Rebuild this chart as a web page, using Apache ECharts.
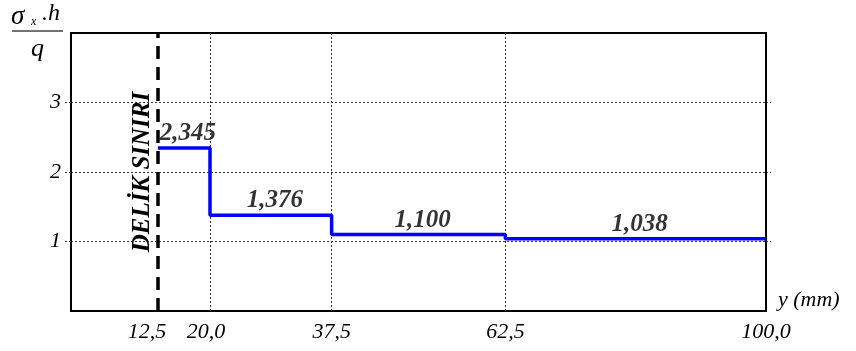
<!DOCTYPE html>
<html>
<head>
<meta charset="utf-8">
<script src="https://cdn.jsdelivr.net/npm/echarts@6/dist/echarts.min.js"></script>
<style>
  html, body { margin: 0; padding: 0; background: #fff; }
  #chart { width: 856px; height: 351px; }
</style>
</head>
<body>
<div id="chart"></div>
<script>
// Stress ratio sigma_x*h/q along y (mm), stepped between stations
const stations = [12.5, 20.0, 37.5, 62.5, 100.0];
const stepValues = [2.345, 1.376, 1.100, 1.038];
const xTickLabels = [12.5, 20.0, 37.5, 62.5, 100.0];
const yTickValues = [1, 2, 3];
const gridXLines = [20.0, 37.5, 62.5];
const holeEdge = 12.5;
const holeEdgeLabel = 'DELİK SINIRI';

const FONT = '"Liberation Serif", "DejaVu Serif", serif';
const comma = (v, d) => v.toFixed(d).replace('.', ',');

// Corner points of the step line
const stepPoints = [];
stepValues.forEach((v, i) => {
  stepPoints.push([stations[i], v]);
  stepPoints.push([stations[i + 1], v]);
});

// Value labels sit at the middle of each step
const labelPoints = stepValues.map((v, i) => [(stations[i] + stations[i + 1]) / 2, v]);

// The two closely spaced labels near the hole edge are nudged apart
const tickTextStyle = { fontFamily: FONT, fontStyle: 'italic', fontSize: 22, color: '#000' };
function xLabel(v) {
  const t = comma(v, 1);
  if (v === 12.5) return '{far|' + t + '}';
  if (v === 20.0) return '{near|' + t + '}';
  return '{std|' + t + '}';
}

const chart = echarts.init(document.getElementById('chart'), null, { renderer: 'canvas' });

chart.setOption({
  animation: false,
  backgroundColor: '#fff',
  grid: {
    left: 71, right: 90, top: 33, bottom: 40,
    show: true, borderColor: '#000', borderWidth: 2, backgroundColor: 'transparent'
  },
  xAxis: {
    type: 'value', min: 0, max: 100,
    name: 'y (mm)', nameLocation: 'end', nameGap: 12,
    nameTextStyle: { fontFamily: FONT, fontStyle: 'italic', fontSize: 22, color: '#000', verticalAlign: 'bottom', padding: [0, 0, 0, 0] },
    axisLine: { show: true, lineStyle: { color: '#000', width: 2 } },
    axisTick: { show: false },
    splitLine: { show: false },
    axisLabel: {
      customValues: xTickLabels,
      formatter: xLabel,
      margin: 10,
      rich: {
        std: Object.assign({}, tickTextStyle),
        far: Object.assign({ padding: [0, 22, 0, 0] }, tickTextStyle),
        near: Object.assign({ padding: [0, 8, 0, 0] }, tickTextStyle)
      }
    }
  },
  yAxis: [{
    type: 'value', min: 0, max: 4, interval: 1,
    axisLine: { show: true, lineStyle: { color: '#000', width: 2 } },
    axisTick: { show: true, customValues: yTickValues, length: 8, lineStyle: { color: '#333', width: 1, type: [2, 2] } },
    splitLine: { show: true, lineStyle: { color: '#333', width: 1, type: [2, 2] } },
    axisLabel: Object.assign({ customValues: yTickValues, margin: 10 }, tickTextStyle)
  }, {
    type: 'value', min: 0, max: 4, position: 'right',
    axisLine: { show: false },
    axisTick: { show: true, customValues: yTickValues, length: 5, lineStyle: { color: '#333', width: 1, type: [2, 2] } },
    splitLine: { show: false },
    axisLabel: { show: false }
  }],
  series: [
    {
      // dotted vertical grid lines at the stations
      type: 'line', data: [], silent: true,
      markLine: {
        silent: true, symbol: 'none', label: { show: false },
        lineStyle: { color: '#333', width: 1, type: [2, 2] },
        data: gridXLines.map(x => ({ xAxis: x }))
      }
    },
    {
      // hole edge
      type: 'line', data: [], silent: true,
      markLine: {
        silent: true, symbol: 'none',
        lineStyle: { color: '#000', width: 3.5, type: [13, 8] },
        label: {
          show: true, formatter: holeEdgeLabel, position: 'insideMiddleTop',
          fontFamily: FONT, fontStyle: 'italic', fontWeight: 'bold', fontSize: 25, color: '#000', distance: 3
        },
        data: [{ xAxis: holeEdge }]
      }
    },
    {
      type: 'line', data: stepPoints, symbol: 'none',
      lineStyle: { color: '#0000ff', width: 3.5 }, z: 5
    },
    {
      type: 'scatter', data: labelPoints, symbolSize: 0, z: 6,
      label: {
        show: true, position: 'top', distance: 2, offset: [4, 0],
        formatter: p => comma(p.value[1], 3),
        fontFamily: FONT, fontStyle: 'italic', fontWeight: 'bold', fontSize: 25, color: '#000'
      }
    }
  ],
  graphic: [
    { type: 'text', left: 11, top: 3, style: { text: 'σ', font: 'italic 27px ' + FONT, fill: '#000' } },
    { type: 'text', left: 31, top: 16, style: { text: 'x', font: 'italic 12px ' + FONT, fill: '#000' } },
    { type: 'text', left: 42, top: 2, style: { text: '.h', font: 'italic 24px ' + FONT, fill: '#000' } },
    { type: 'line', shape: { x1: 12, y1: 31, x2: 63, y2: 31 }, style: { stroke: '#444', lineWidth: 1.5 } },
    { type: 'text', left: 31, top: 36, style: { text: 'q', font: 'italic 26px ' + FONT, fill: '#000' } }
  ]
});
</script>
</body>
</html>
